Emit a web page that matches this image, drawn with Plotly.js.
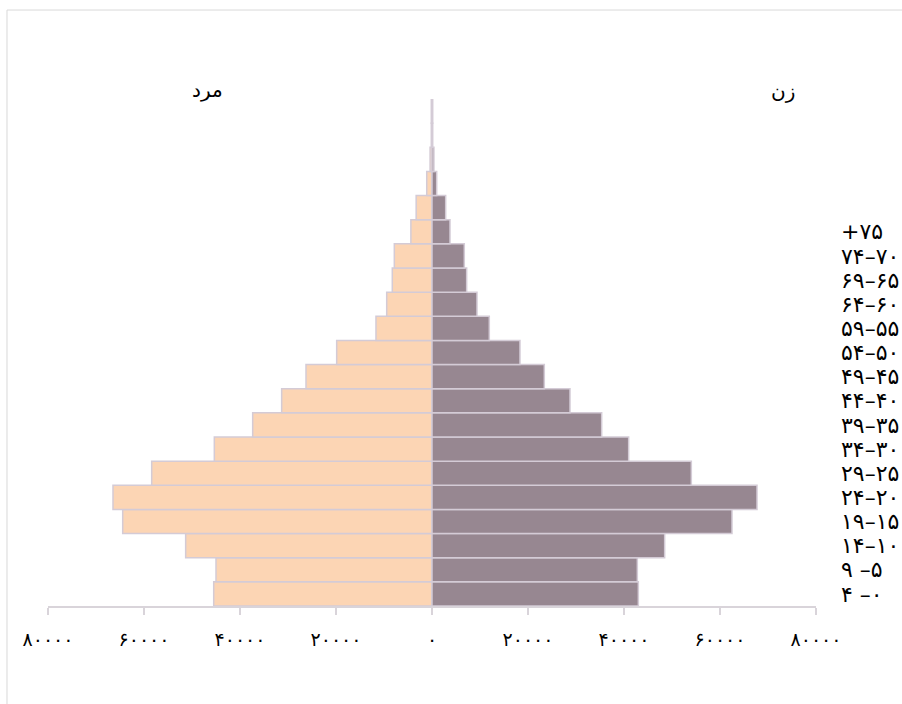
<!DOCTYPE html>
<html>
<head>
<meta charset="utf-8">
<script src="https://cdn.plot.ly/plotly-3.0.1.min.js"></script>
<style>html,body{margin:0;padding:0;background:#fff;}#chart{width:902px;height:704px;}</style>
</head>
<body>
<div id="chart"></div>
<script>
// Age groups (bottom to top); the top five rows carry no label in the reference
const ageGroups = ['0-4','5-9','10-14','15-19','20-24','25-29','30-34','35-39','40-44','45-49','50-54','55-59','60-64','65-69','70-74','75+','80-84','85-89','90-94','95-99','100+'];
const labeledGroups = ['0-4','5-9','10-14','15-19','20-24','25-29','30-34','35-39','40-44','45-49','50-54','55-59','60-64','65-69','70-74','75+'];
const ageLabels = ['۴ –۰','۹ –۵','۱۴–۱۰','۱۹–۱۵','۲۴–۲۰','۲۹–۲۵','۳۴–۳۰','۳۹–۳۵','۴۴–۴۰','۴۹–۴۵','۵۴–۵۰','۵۹–۵۵','۶۴–۶۰','۶۹–۶۵','۷۴–۷۰','+۷۵'];
const male   = [45480,45000,51320,64440,66460,58400,45350,37360,31320,26250,19860,11670,9440,8270,7850,4400,3300,1100,400,150,150];
const female = [42990,42780,48470,62500,67710,54030,40970,35350,28750,23400,18330,11940,9375,7220,6730,3750,2850,980,400,150,150];
const xTickVals = [-80000,-60000,-40000,-20000,0,20000,40000,60000,80000];
const xTickText = ['۸۰۰۰۰','۶۰۰۰۰','۴۰۰۰۰','۲۰۰۰۰','۰','۲۰۰۰۰','۴۰۰۰۰','۶۰۰۰۰','۸۰۰۰۰'];
const maleName = 'مرد';
const femaleName = 'زن';

const edge = {color:'#d4cbd6', width:1.5};
const traces = [
  {type:'bar', orientation:'h', name:maleName, y:ageGroups, x:male.map(v=>-v),
   marker:{color:'#fcd5b4', line:edge}, hoverinfo:'skip'},
  {type:'bar', orientation:'h', name:femaleName, y:ageGroups, x:female,
   marker:{color:'#978791', line:edge}, hoverinfo:'skip'}
];

const font = 'DejaVu Sans, Noto Sans, sans-serif';
const layout = {
  width:902, height:704,
  margin:{l:48, r:86, t:99, b:98},
  paper_bgcolor:'#ffffff', plot_bgcolor:'#ffffff',
  showlegend:false,
  barmode:'overlay', bargap:0,
  font:{family:font, color:'#000'},
  xaxis:{range:[-80000,80000], tickmode:'array', tickvals:xTickVals, ticktext:xTickText,
         showgrid:false, zeroline:false, showline:true, linecolor:'#d9d4da', linewidth:1.5,
         ticks:'outside', ticklen:7, tickcolor:'#d9d4da', tickwidth:1.5,
         ticklabelstandoff:9, tickfont:{family:font, size:19, color:'#000'}, fixedrange:true},
  yaxis:{type:'category', categoryorder:'array', categoryarray:ageGroups,
         range:[-0.5, ageGroups.length-0.5],
         tickmode:'array', tickvals:labeledGroups, ticktext:ageLabels,
         side:'right', showgrid:false, zeroline:false, showline:false, ticks:'',
         ticklabelstandoff:24, tickfont:{family:font, size:22, color:'#000'}, fixedrange:true},
  annotations:[
    {xref:'paper', yref:'paper', x:0.208, y:1.018, text:maleName, showarrow:false,
     xanchor:'center', yanchor:'middle', font:{family:font, size:20, color:'#000'}},
    {xref:'paper', yref:'paper', x:0.957, y:1.016, text:femaleName, showarrow:false,
     xanchor:'center', yanchor:'middle', font:{family:font, size:20, color:'#000'}}
  ],
  shapes:[
    {type:'line', xref:'paper', yref:'paper', x0:-0.0534, x1:-0.0534, y0:-0.3, y1:1.1755,
     line:{color:'#d9d9d9', width:1}, layer:'below'},
    {type:'line', xref:'paper', yref:'paper', x0:-0.0534, x1:1.2, y0:1.1755, y1:1.1755,
     line:{color:'#d9d9d9', width:1}, layer:'below'}
  ]
};
Plotly.newPlot('chart', traces, layout, {displayModeBar:false, staticPlot:true});
</script>
</body>
</html>
